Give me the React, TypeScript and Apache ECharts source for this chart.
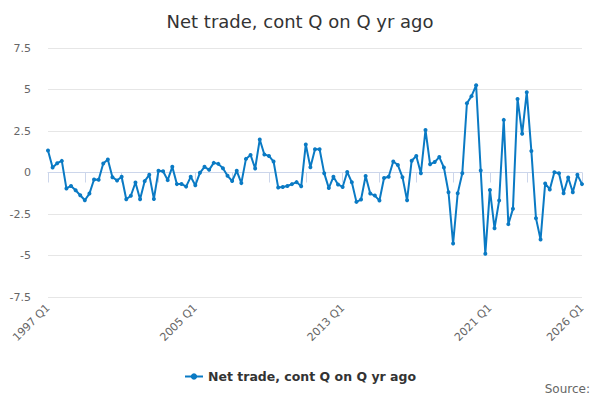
import React, { useEffect, useRef } from "react";
import * as echarts from "echarts";

const TITLE = "Net trade, cont Q on Q yr ago";
const SERIES_NAME = "Net trade, cont Q on Q yr ago";
const START_YEAR = 1997;

const values: number[] = [
  1.33, 0.30, 0.56, 0.70, -0.96, -0.81, -1.07, -1.37, -1.67, -1.27,
  -0.42, -0.44, 0.54, 0.78, -0.28, -0.48, -0.26, -1.61, -1.40, -0.60,
  -1.61, -0.52, -0.14, -1.59, 0.10, 0.08, -0.46, 0.34, -0.70, -0.69,
  -0.85, -0.26, -0.77, -0.02, 0.34, 0.16, 0.58, 0.52, 0.26, -0.20,
  -0.51, 0.10, -0.64, 0.82, 1.06, 0.24, 1.99, 1.08, 1.00, 0.66,
  -0.90, -0.87, -0.81, -0.70, -0.58, -0.83, 1.69, 0.31, 1.40, 1.40,
  -0.04, -0.94, -0.26, -0.72, -0.87, 0.03, -0.59, -1.77, -1.63, -0.21,
  -1.27, -1.39, -1.69, -0.33, -0.26, 0.66, 0.45, -0.28, -1.67, 0.71,
  0.99, -0.04, 2.56, 0.50, 0.63, 0.93, 0.30, -1.19, -4.28, -1.25,
  -0.04, 4.17, 4.60, 5.25, 0.12, -4.90, -1.05, -3.36, -1.69, 3.17,
  -3.11, -2.19, 4.43, 2.33, 4.84, 1.30, -2.75, -4.04, -0.66, -1.02,
  0.02, -0.04, -1.25, -0.30, -1.19, -0.14, -0.70,
];

const categories: string[] = values.map(
  (_, i) => `${START_YEAR + Math.floor(i / 4)} Q${(i % 4) + 1}`
);

const Y_MIN = -7.5;
const Y_MAX = 7.5;
const Y_STEP = 2.5;

const FONT = "DejaVu Sans, Verdana, sans-serif";
const LINE_COLOR = "#0a7ac4";

export default function App() {
  const ref = useRef<HTMLDivElement>(null);

  useEffect(() => {
    if (!ref.current) return;
    const chart = echarts.init(ref.current, undefined, { renderer: "svg" });
    const last = categories.length - 1;
    chart.setOption({
      animation: false,
      backgroundColor: "#ffffff",
      textStyle: { fontFamily: FONT },
      title: {
        text: TITLE,
        left: "center",
        top: 7,
        textStyle: { fontFamily: FONT, fontSize: 18, fontWeight: "normal", color: "#333333" },
      },
      grid: { left: 48, right: 18, top: 48, bottom: 103, containLabel: false },
      xAxis: {
        type: "category",
        data: categories,
        boundaryGap: false,
        axisLine: { show: true, lineStyle: { color: "#ccd6eb", width: 1 } },
        axisTick: {
          show: true,
          length: 10,
          lineStyle: { color: "#ccd6eb" },
          interval: (i: number) => (i % 8 === 0 && i <= 104) || i === last,
        },
        axisLabel: {
          rotate: 45,
          fontFamily: FONT,
          fontSize: 11,
          color: "#666666",
          margin: 9,
          interval: (i: number) => i % 32 === 0 || i === last,
          showMaxLabel: true,
        },
        splitLine: { show: false },
      },
      yAxis: {
        type: "value",
        min: Y_MIN,
        max: Y_MAX,
        interval: Y_STEP,
        axisLine: { show: false },
        axisTick: { show: false },
        axisLabel: { fontFamily: FONT, fontSize: 11, color: "#666666", margin: 17 },
        splitLine: { lineStyle: { color: "#e6e6e6", width: 1 } },
      },
      legend: {
        top: 365,
        left: "center",
        itemWidth: 18,
        itemHeight: 8,
        itemGap: 10,
        textStyle: { fontFamily: FONT, fontSize: 12.5, fontWeight: "bold", color: "#333333" },
        data: [SERIES_NAME],
      },
      series: [
        {
          name: SERIES_NAME,
          type: "line",
          data: values,
          symbol: "circle",
          symbolSize: 4,
          showAllSymbol: true,
          lineStyle: { color: LINE_COLOR, width: 2 },
          itemStyle: { color: LINE_COLOR },
        },
      ],
      graphic: [
        {
          type: "text",
          right: 10,
          top: 383,
          style: { text: "Source:", fontFamily: FONT, fontSize: 12, fill: "#666666" },
        },
      ],
    });
    return () => chart.dispose();
  }, []);

  return (
    <div
      ref={ref}
      style={{ position: "fixed", left: 0, top: 0, width: 600, height: 400, background: "#fff" }}
    />
  );
}
